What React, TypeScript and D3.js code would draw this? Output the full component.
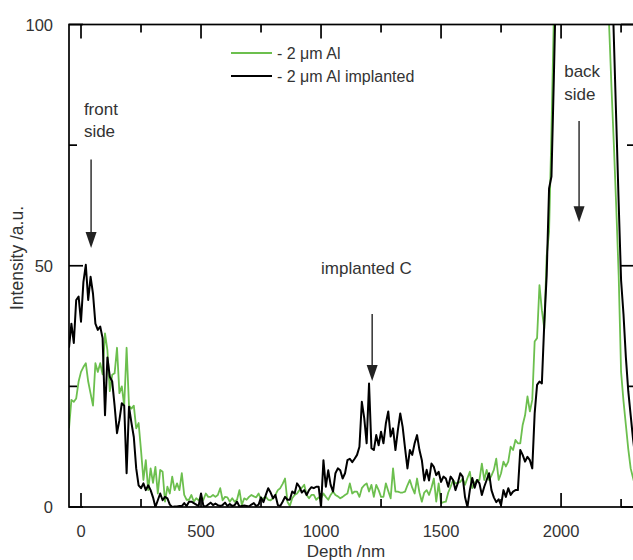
import React from 'react';
import * as d3 from 'd3';

// Depth grid (nm)
const depth: number[] = d3.range(-50, 2311, 10);

// 2 µm Al (green)
const greenSeries: number[] = [
  16.3, 22.2, 21.8, 22.5, 26, 28, 29, 29.8, 26, 23.5,
  21, 29.8, 28, 29.8, 27.5, 36, 32.5, 24, 27.4, 27.7,
  33, 23.6, 25, 21, 33, 21, 20.4, 21, 16.3, 17.4,
  11.8, 5.6, 9.7, 3.5, 8, 5, 8.3, 2.8, 7.7, 7.3,
  1.1, 4.2, 2.8, 6.3, 3.5, 4.9, 3.5, 7, 2.5, 1.5,
  1.5, 2.5, 1.1, 1.8, 1.4, 2, 1.5, 2.8, 2.1, 2.1,
  2.5, 2.1, 2.5, 3.9, 1.4, 2.1, 2, 1.1, 1.8, 1.1,
  1.5, 3.5, 0.4, 1.8, 1.5, 2.1, 2.5, 2.2, 2, 2.8,
  1.5, 1.8, 2.1, 1.5, 1.4, 1.8, 2.5, 3.5, 3.9, 4.8,
  5.9, 1.1, 0.2, 1.8, 2.5, 2.8, 3.5, 4, 4.6, 2.5,
  1.8, 2.5, 2.5, 1.5, 2, 1.8, 2.8, 2.1, 1.5, 2.5,
  3.2, 2.5, 2.2, 1.8, 2.1, 2.5, 2.8, 4.9, 2.8, 3.2,
  3.2, 2.1, 3.9, 4.5, 4.9, 3.2, 4.6, 2.1, 4.6, 3.5,
  2.1, 2.1, 4.9, 3.3, 1.8, 8, 3.2, 3.2, 3, 3,
  3.2, 4.5, 5.6, 4, 2.8, 5.9, 3, 1.1, 3, 3.5,
  2.5, 4, 5.9, 1.1, 4.9, 0.8, 1, 1.1, 3, 4.2,
  5.6, 4.9, 5, 5.2, 5.9, 4.6, 6, 7.3, 3.9, 5,
  5.6, 5.6, 9, 5.6, 7.7, 5.6, 6.5, 7.7, 10, 5.6,
  7, 9.4, 8.4, 9.4, 12.5, 11.8, 13.9, 13.2, 13.2, 17,
  19, 22.9, 19.8, 22.2, 34.3, 35, 46, 40.8, 37, 52,
  57, 78, 102, 125, 150, 175, 195, 205, 210, 215,
  218, 222, 226, 228, 230, 228, 225, 220, 215, 210,
  195, 175, 155, 137, 118, 100, 87, 75, 62, 48,
  28, 22, 17, 12, 8, 6, 4,
];

// 2 µm Al implanted (black)
const blackSeries: number[] = [
  33, 38, 34, 42.9, 43.6, 38.4, 46.6, 50.2, 42.9, 47.7,
  44.2, 38, 36.7, 37.4, 35, 19, 31, 27, 26, 21,
  15.3, 18, 21.5, 21, 7, 20.8, 17.5, 14.5, 8, 4.5,
  3.9, 4.9, 3.5, 4.5, 3.5, 2, 0, 1.4, 2.8, 1.4,
  2.1, 1.8, 0.5, 0, 0.1, 0.1, 0.2, 0.2, 0.8, 0.2,
  1.1, 1.1, 0.8, 0.5, 0.2, 2.8, 0.2, 0.1, 0.5, 0.9,
  0.4, 0.7, 0.4, 0.2, 0.4, 0.9, 0.2, 0.6, 0.2, 0.4,
  1.1, 0.1, 0.2, 0.3, 0.2, 0.1, 0.5, 0.8, 0.2, 0.5,
  2, 1, 2.5, 3.9, 3, 1.8, 2.5, 0.4, 0.2, 1.1,
  2.1, 1.5, 1.5, 3.2, 2.8, 4.9, 4.2, 3, 3.5, 2.5,
  3.5, 4.1, 3.9, 4.2, 4.2, 0, 9.7, 4.2, 7.6, 4.6,
  3.2, 7, 8, 7.6, 5.9, 7, 9.7, 10, 9.3, 10,
  10.8, 12.5, 21.8, 18.4, 13.2, 25.6, 12.2, 11.8, 14.9, 12.8,
  15.6, 13.2, 17.3, 19.8, 14.6, 16.3, 11.8, 15.9, 19.4, 16.6,
  12.2, 8, 11.8, 10.8, 13.2, 14.9, 11.8, 9.7, 5.5, 7.7,
  5.5, 9, 8.3, 6.6, 7.3, 5.2, 6.3, 5.9, 4.2, 6.3,
  5.6, 3.5, 5, 7, 6.3, 2, 0, 3.5, 6, 4,
  5.6, 4.9, 2.5, 4.2, 5.6, 7, 3.5, 2, 1, 1.6,
  0.4, 3.5, 2.1, 3.9, 2.5, 3.2, 3.5, 3.5, 11.8, 10.8,
  9.4, 10.4, 9.7, 8, 19.4, 25.3, 26, 25.6, 38, 48,
  66, 68.5, 89, 112, 140, 170, 190, 200, 210, 215,
  222, 225, 228, 230, 232, 230, 228, 225, 222, 218,
  212, 200, 185, 168, 150, 131, 114, 97, 80, 63,
  47, 40, 31, 24, 19, 14, 10,
];

const xMajorTicks = [0, 500, 1000, 1500, 2000];
const xMinorTicks = [250, 750, 1250, 1750, 2250];
const yMajorTicks = [0, 50, 100];
const yMinorTicks = [25, 75];
const legendLabels = ['- 2 \u03bcm Al', '- 2 \u03bcm Al implanted'];
const seriesColors = ['#6cbf4e', '#000000'];

const FONT = '"Liberation Sans", Arial, Helvetica, sans-serif';
const TEXT = '#333333';

function Arrow({ x, y0, y1 }: { x: number; y0: number; y1: number }) {
  const head = 16;
  const hw = 5.5;
  return (
    <g>
      <line x1={x} x2={x} y1={y0} y2={y1 - head + 2} stroke="#222" strokeWidth={1.4} />
      <path d={`M${x - hw},${y1 - head} L${x + hw},${y1 - head} L${x},${y1} Z`} fill="#222" />
    </g>
  );
}

export default function App() {
  const W = 633;
  const H = 560;
  const x = d3.scaleLinear().domain([-50, 2308]).range([69, 635]);
  const y = d3.scaleLinear().domain([0, 100]).range([507, 24.5]);
  const [x0, x1] = x.range();
  const [yb, yt] = y.range();

  const line = d3
    .line<number>()
    .x((_, i) => x(depth[i]))
    .y((d) => y(d));

  const majorLen = 14;
  const minorLen = 8;

  return (
    <svg
      width={W}
      height={H}
      style={{ position: 'absolute', left: 0, top: 0, background: '#fff' }}
      fontFamily={FONT}
    >
      <defs>
        <clipPath id="plotClip">
          <rect x={x0} y={yt} width={x1 - x0} height={yb - yt} />
        </clipPath>
      </defs>

      {/* data */}
      <g clipPath="url(#plotClip)" fill="none" strokeLinejoin="round">
        <path d={line(greenSeries) || ''} stroke={seriesColors[0]} strokeWidth={1.8} />
        <path d={line(blackSeries) || ''} stroke={seriesColors[1]} strokeWidth={2} />
      </g>

      {/* ticks */}
      <g stroke="#000" strokeWidth={1.7}>
        {xMajorTicks.map((t) => (
          <g key={'xM' + t}>
            <line x1={x(t)} x2={x(t)} y1={yb} y2={yb - majorLen} />
            <line x1={x(t)} x2={x(t)} y1={yt} y2={yt + majorLen} />
          </g>
        ))}
        {xMinorTicks.map((t) => (
          <g key={'xm' + t}>
            <line x1={x(t)} x2={x(t)} y1={yb} y2={yb - minorLen} />
            <line x1={x(t)} x2={x(t)} y1={yt} y2={yt + minorLen} />
          </g>
        ))}
        {yMajorTicks.map((t) => (
          <g key={'yM' + t}>
            <line x1={x0} x2={x0 + majorLen} y1={y(t)} y2={y(t)} />
            <line x1={x1} x2={x1 - majorLen} y1={y(t)} y2={y(t)} />
          </g>
        ))}
        {yMinorTicks.map((t) => (
          <g key={'ym' + t}>
            <line x1={x0} x2={x0 + minorLen} y1={y(t)} y2={y(t)} />
            <line x1={x1} x2={x1 - minorLen} y1={y(t)} y2={y(t)} />
          </g>
        ))}
      </g>

      {/* frame */}
      <rect x={x0} y={yt} width={x1 - x0} height={yb - yt} fill="none" stroke="#000" strokeWidth={1.7} />

      {/* tick labels */}
      <g fill={TEXT} fontSize={16.5}>
        {xMajorTicks.map((t) => (
          <text key={'xl' + t} x={x(t)} y={yb + 30} textAnchor="middle">
            {t}
          </text>
        ))}
        {yMajorTicks.map((t) => (
          <text key={'yl' + t} x={x0 - 16} y={y(t) + 6} textAnchor="end">
            {t}
          </text>
        ))}
      </g>

      {/* axis titles */}
      <text x={346} y={557} textAnchor="middle" fontSize={17} fill={TEXT}>
        Depth /nm
      </text>
      <text
        transform={`translate(23, ${258}) rotate(-90)`}
        textAnchor="middle"
        fontSize={17.5}
        fill={TEXT}
      >
        Intensity /a.u.
      </text>

      {/* legend */}
      {legendLabels.map((lab, i) => (
        <g key={lab} transform={`translate(231, ${53 + i * 23})`}>
          <line x1={0} x2={41} y1={0} y2={0} stroke={seriesColors[i]} strokeWidth={i === 0 ? 1.8 : 2} />
          <text x={46} y={6} fontSize={16} fill={TEXT}>
            {lab}
          </text>
        </g>
      ))}

      {/* annotations */}
      <g fill={TEXT} fontSize={17}>
        <text x={x(12)} y={y(81.2)}>front</text>
        <text x={x(12)} y={y(76.6)}>side</text>
        <text x={x(1000)} y={y(48.2)}>implanted C</text>
        <text x={x(2013)} y={y(89.2)}>back</text>
        <text x={x(2013)} y={y(84.4)}>side</text>
      </g>
      <Arrow x={x(42)} y0={y(72)} y1={y(53.7)} />
      <Arrow x={x(1213)} y0={y(40)} y1={y(26.1)} />
      <Arrow x={x(2075)} y0={y(80)} y1={y(59)} />
    </svg>
  );
}
